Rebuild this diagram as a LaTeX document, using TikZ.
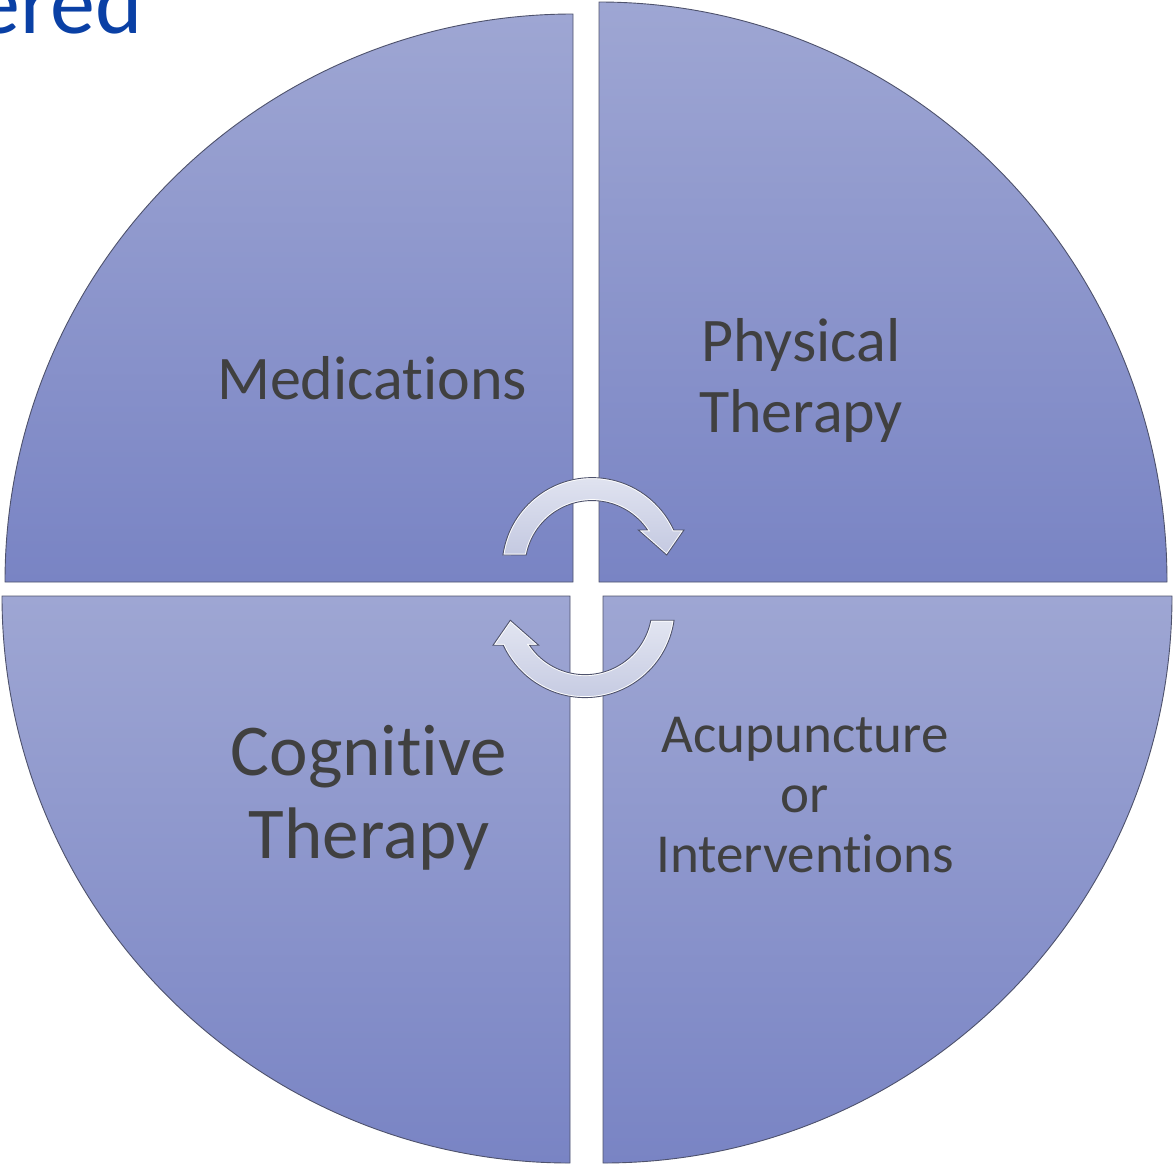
\documentclass[tikz,border=0pt]{standalone}
\usepackage{fontspec}
\setmainfont{Carlito}[Ligatures={NoCommon}]
\definecolor{secTop}{RGB}{158,166,211}
\definecolor{secBot}{RGB}{121,132,196}
\definecolor{secEdge}{RGB}{78,82,108}
\definecolor{arrTop}{RGB}{226,229,241}
\definecolor{arrBot}{RGB}{196,201,225}
\definecolor{labelInk}{RGB}{64,64,64}
\definecolor{titleBlue}{RGB}{10,64,165}

% outlines of the two curved arrows in the middle
\newcommand{\arrowTopPath}{(502.9,555) arc[start angle=188.05,end angle=335.3,radius=90]
  -- (684,530) -- (666.7,555) -- (638.3,530) -- (647.5,530)
  arc[start angle=325.9,end angle=190.84,radius=67] -- cycle}
\newcommand{\arrowBotPath}{(674.1,620.2) arc[start angle=8.05,end angle=155.3,radius=90]
  -- (493,645.2) -- (510.3,620.2) -- (538.7,645.2) -- (529.5,645.2)
  arc[start angle=145.9,end angle=10.84,radius=67] -- cycle}

\begin{document}
\begin{tikzpicture}[x=1pt,y=-1pt,
  sector/.style={top color=secTop,bottom color=secBot,draw=secEdge,line width=0.9},
  cyclearrow/.style={top color=arrTop,bottom color=arrBot},
  arrowrim/.style={draw=secEdge,line width=0.9},
  arrowglow/.style={draw=white,line width=2.8},
  lbl/.style={text=labelInk,inner sep=0,anchor=base},
  bigfont/.style={font=\fontsize{62}{72}\selectfont},
  hugefont/.style={font=\fontsize{73}{82}\selectfont},
  smallfont/.style={font=\fontsize{55}{60}\selectfont}]
\useasboundingbox (0,0) rectangle (1174,1168);

% title fragment at the top left
\node[inner sep=0,anchor=base east,text=titleBlue,font=\fontsize{90}{90}\selectfont] (title) at (143,33) {ered};

% four quadrants of the pie
\path[sector] (573,582) -- (5,582) arc[start angle=180,end angle=270,x radius=568,y radius=568] -- cycle;
\path[sector] (599,582) -- (599,2) arc[start angle=270,end angle=360,x radius=568,y radius=580] -- cycle;
\path[sector] (603,596) -- (1172,596) arc[start angle=0,end angle=90,x radius=569,y radius=567] -- cycle;
\path[sector] (570,596) -- (570,1163) arc[start angle=90,end angle=180,x radius=568,y radius=567] -- cycle;

% curved arrows
\path[cyclearrow] \arrowTopPath;
\begin{scope}\clip \arrowTopPath; \path[arrowglow] \arrowTopPath; \end{scope}
\path[arrowrim] \arrowTopPath;
\path[cyclearrow] \arrowBotPath;
\begin{scope}\clip \arrowBotPath; \path[arrowglow] \arrowBotPath; \end{scope}
\path[arrowrim] \arrowBotPath;

% labels
\node[lbl,bigfont] (med) at (372,399) {Medications};
\node[lbl,bigfont] (physA) at (801,361) {Physical};
\node[lbl,bigfont] (physB) at (801,432) {Therapy};
\node[lbl,hugefont] (cogA) at (369,775) {Cognitive};
\node[lbl,hugefont] (cogB) at (369,858) {Therapy};
\node[lbl,smallfont] (acuA) at (805,752) {Acupuncture};
\node[lbl,smallfont] (acuB) at (805,812) {or};
\node[lbl,smallfont] (acuC) at (805,872) {Interventions};
\end{tikzpicture}
\end{document}
